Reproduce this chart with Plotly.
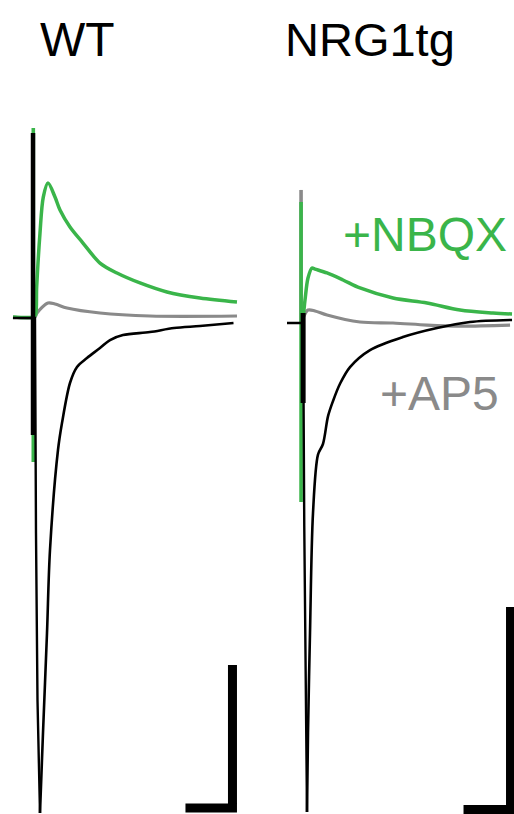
import plotly.graph_objects as go

# ---------------- data (time in ms, current in pA) ----------------
# ---- WT panel ----
# stimulus artefacts (time, [top, bottom])
wt_black_art_t = [-2.1, -2.1]
wt_black_art_i = [258.7, -163.6]
wt_green_art_t = [-1.8, -1.8]
wt_green_art_i = [265.7, -201.4]
# control (black): baseline + fast onset to peak
wt_black_on_t = [-23.4, 0.0, 1.06, 2.66, 5.32]
wt_black_on_i = [0.0, 0.0, -300.7, -534.3, -692.3]
# control (black): decay from peak
wt_black_dec_t = [5.32, 8.51, 12.77, 15.96, 24.47, 28.72, 37.23, 44.7, 55.3, 69.15, 79.8, 93.62,
                  122.3, 147.9, 175.5, 211.2]
wt_black_dec_i = [-692.3, -580.4, -440.6, -324.5, -184.6, -146.9, -90.9, -68.5, -55.9, -42.0, -30.8,
                  -23.8, -19.6, -14.0, -11.2, -7.0]
# +NBQX (green)
wt_green_t = [-23.4, -1.8, 0.5, 1.8, 5.32, 8.83, 13.83, 21.28, 26.6, 37.23, 51.06, 69.15, 87.23,
              111.7, 140.4, 175.5, 214.9]
wt_green_i = [1.4, 1.4, 4.2, 43.4, 118.9, 169.2, 188.8, 169.2, 151.0, 127.3, 104.9, 76.9, 62.9,
              49.0, 36.4, 28.0, 22.4]
# +AP5 (gray)
wt_gray_t = [-23.4, 0.0, 2.13, 13.83, 21.28, 34.04, 69.15, 122.3, 214.9]
wt_gray_i = [1.4, 1.4, 7.0, 21.0, 19.6, 14.0, 7.0, 2.8, 2.8]

# ---- NRG1tg panel ----
tg_black_art_t = [1.2, 1.2]
tg_black_art_i = [9.9, -79.0]
tg_green_art_t = [-1.0, -1.0]
tg_green_art_i = [119.5, -176.8]
tg_gray_art_t = [-1.0, -1.0]
tg_gray_art_i = [131.4, 0.0]
tg_black_on_t = [-15.96, 1.2, 2.4, 3.7, 5.32]
tg_black_on_i = [0.0, 0.0, -200.0, -372.3, -483.0]
tg_black_dec_t = [5.32, 6.38, 8.51, 11.7, 17.0, 22.3, 27.7, 33.0, 40.43, 51.06, 72.34,
                  107.4, 143.6, 178.7, 223.4]
tg_black_dec_i = [-483.0, -404.9, -306.2, -187.7, -130.0, -119.5, -92.0, -77.0, -60.0, -43.5,
                  -26.7, -13.8, -4.9, 1.0, 3.0]
tg_green_t = [-1.0, 1.06, 3.19, 6.38, 10.64, 13.83, 26.6, 43.62, 61.7, 96.81, 133.0, 168.1, 203.2,
              223.4]
tg_green_i = [0.0, 5.9, 22.7, 44.4, 54.3, 53.3, 49.4, 42.5, 34.6, 24.7, 19.8, 12.8, 9.9, 8.9]
tg_gray_t = [-1.0, 1.06, 6.38, 13.83, 26.6, 61.7, 96.81, 133.0, 168.1, 221.3]
tg_gray_i = [0.0, 4.9, 12.8, 11.9, 7.9, 1.0, 0.0, -2.0, -3.0, -2.0]

# scale bars: 50 ms, 200 pA (corner position in each panel's units)
SCALE_MS = 50
SCALE_PA = 200
wt_bar_corner = (210.1, -685.3)
tg_bar_corner = (221.8, -480.5)

panel_titles = ["WT", "NRG1tg"]
label_nbqx = "+NBQX"
label_ap5 = "+AP5"

GREEN = "#3ab54a"
GRAY = "#8a8a8a"
BLACK = "#000000"

W, H = 514, 814
FONT = "Liberation Sans, Arial, sans-serif"

fig = go.Figure()


def add(t, i, color, width, xa, ya, smooth=False):
    line = dict(color=color, width=width)
    if smooth:
        line.update(shape="spline", smoothing=0.9)
    fig.add_trace(go.Scatter(x=t, y=i, mode="lines", line=line,
                             xaxis=xa, yaxis=ya, showlegend=False, hoverinfo="skip"))


# WT
add(wt_gray_t, wt_gray_i, GRAY, 3.2, "x", "y", smooth=True)
add(wt_green_art_t, wt_green_art_i, GREEN, 3.6, "x", "y")
add(wt_green_t, wt_green_i, GREEN, 3.5, "x", "y", smooth=True)
add(wt_black_art_t, wt_black_art_i, BLACK, 4.5, "x", "y")
add(wt_black_on_t, wt_black_on_i, BLACK, 2.4, "x", "y")
add(wt_black_dec_t, wt_black_dec_i, BLACK, 2.6, "x", "y", smooth=True)
cx, cy = wt_bar_corner
add([cx - SCALE_MS, cx, cx], [cy, cy, cy + SCALE_PA], BLACK, 9, "x", "y")

# NRG1tg
add(tg_gray_art_t, tg_gray_art_i, GRAY, 3.6, "x2", "y2")
add(tg_gray_t, tg_gray_i, GRAY, 3.2, "x2", "y2", smooth=True)
add(tg_green_art_t, tg_green_art_i, GREEN, 3.6, "x2", "y2")
add(tg_green_t, tg_green_i, GREEN, 3.5, "x2", "y2", smooth=True)
add(tg_black_art_t, tg_black_art_i, BLACK, 5, "x2", "y2")
add(tg_black_on_t, tg_black_on_i, BLACK, 2.4, "x2", "y2")
add(tg_black_dec_t, tg_black_dec_i, BLACK, 2.6, "x2", "y2", smooth=True)
cx, cy = tg_bar_corner
add([cx - SCALE_MS, cx, cx], [cy, cy, cy + SCALE_PA], BLACK, 9, "x2", "y2")

ax_common = dict(visible=False, showgrid=False, zeroline=False, fixedrange=True)
split = 257 / W
fig.update_layout(
    width=W, height=H,
    margin=dict(l=0, r=0, t=0, b=0),
    paper_bgcolor="white", plot_bgcolor="white",
    xaxis=dict(domain=[0, split], range=[-37.23, 236.2], **ax_common),
    yaxis=dict(domain=[0, 1], range=[-693.7, 444.8], **ax_common),
    xaxis2=dict(domain=[split, 1], range=[-47.87, 225.5], anchor="y2", **ax_common),
    yaxis2=dict(domain=[0, 1], range=[-484.9, 319.0], anchor="x2", **ax_common),
)


def ann(text, px, py, color, size, xanchor="left"):
    fig.add_annotation(text=text, x=px / W, y=1 - py / H, xref="paper", yref="paper",
                       xanchor=xanchor, yanchor="middle", showarrow=False,
                       font=dict(family=FONT, size=size, color=color))


ann(panel_titles[0], 38, 39, BLACK, 48)
ann(panel_titles[1], 283, 39, BLACK, 47)
ann(label_nbqx, 341, 235, GREEN, 48)
ann(label_ap5, 378, 393, GRAY, 48)

fig.write_html("out.html")
